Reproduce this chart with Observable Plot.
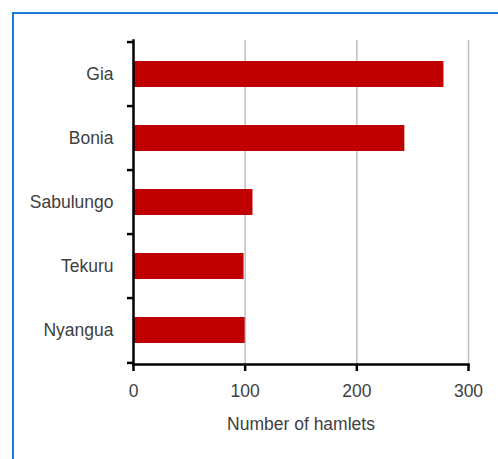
<!DOCTYPE html>
<html>
<head>
<meta charset="utf-8">
<script src="https://cdn.jsdelivr.net/npm/d3@7"></script>
<script src="https://cdn.jsdelivr.net/npm/@observablehq/plot@0.6"></script>
<style>
  html, body { margin: 0; padding: 0; background: #fff; }
  #wrap { position: relative; width: 498px; height: 459px; overflow: hidden; }
  #frame { position: absolute; left: 12px; top: 12px; width: 500px; height: 500px; border: 2px solid #1C7CD5; box-sizing: border-box; }
  #chart { position: absolute; left: 0; top: 0; }
</style>
</head>
<body>
<div id="wrap"><div id="frame"></div><div id="chart"></div></div>
<script>
const villages = ["Gia", "Bonia", "Sabulungo", "Tekuru", "Nyangua"];
const hamlets = [278, 243, 107, 99, 100];
const xTicks = [0, 100, 200, 300];
const xLabel = "Number of hamlets";

const data = villages.map((v, i) => ({village: v, count: hamlets[i]}));
const textColor = "#404040";
const fs = 17.5;
const step = 324 / 5;

const plot = Plot.plot({
  width: 498,
  height: 459,
  marginLeft: 133,
  marginRight: 30,
  marginTop: 40,
  marginBottom: 95,
  style: {fontFamily: "'Liberation Sans', Arial, sans-serif", fontSize: fs + "px", color: textColor, background: "transparent", overflow: "visible"},
  x: {domain: [0, 300], ticks: xTicks},
  y: {domain: villages, paddingInner: 0.6, paddingOuter: 0.3},
  marks: [
    Plot.gridX(xTicks.slice(1), {stroke: "#bfbfbf", strokeOpacity: 1, strokeWidth: 1.5}),
    Plot.barX(data, {y: "village", x: "count", fill: "#C00000"}),
    Plot.axisX({ticks: xTicks, tickSize: 7, tickPadding: 13, tickFormat: d => String(d), stroke: "black", strokeWidth: 2.5, fill: textColor, fontSize: fs, label: null}),
    Plot.text([xLabel], {frameAnchor: "bottom", lineAnchor: "middle", dy: 60, text: d => d, fill: textColor, fontSize: fs}),
    Plot.axisY({tickSize: 0, tickPadding: 20, fill: textColor, fontSize: fs, label: null}),
    Plot.ruleY(villages, {y: d => d, x1: -6 * 300 / 335, x2: 0, dy: -step / 2, stroke: "black", strokeWidth: 2.5}),
    Plot.ruleY([villages[villages.length - 1]], {y: d => d, x1: -6 * 300 / 335, x2: 0, dy: step / 2, stroke: "black", strokeWidth: 2.5}),
    Plot.frame({anchor: "left", stroke: "black", strokeWidth: 2.5}),
    Plot.frame({anchor: "bottom", stroke: "black", strokeWidth: 2.5})
  ]
});
document.getElementById("chart").append(plot);
</script>
</body>
</html>
